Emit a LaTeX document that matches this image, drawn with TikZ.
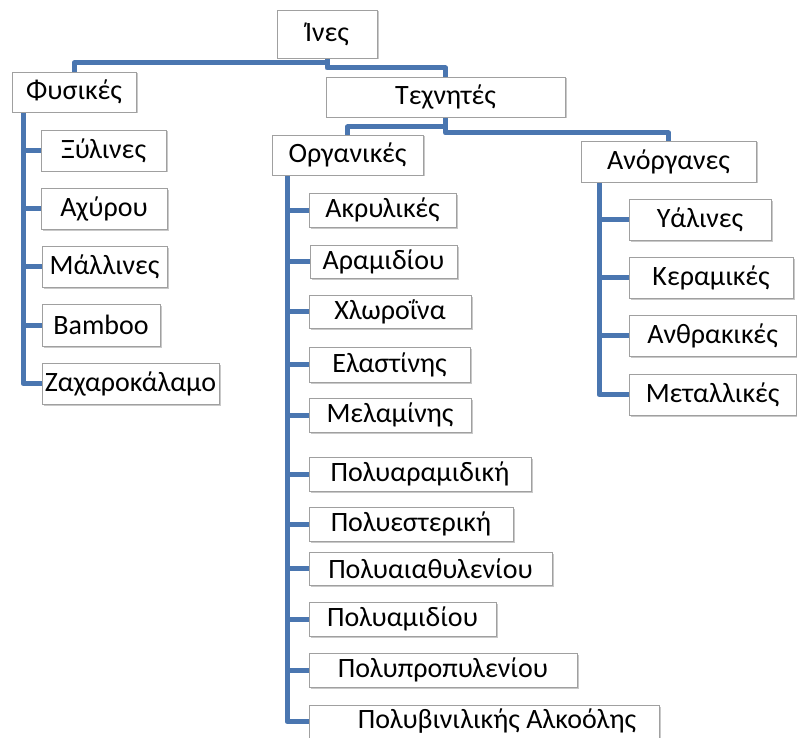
\documentclass[tikz,border=0pt]{standalone}
\usepackage{fontspec}
\setmainfont{Carlito}
\usetikzlibrary{shadows}
\definecolor{lineblue}{RGB}{74,118,176}
\definecolor{boxgray}{RGB}{160,160,160}
\tikzset{
  box/.style={draw=boxgray, line width=0.9pt, fill=white, inner sep=0pt,
    font=\fontsize{28}{32}\selectfont, anchor=center,
    drop shadow={shadow xshift=1.5pt, shadow yshift=-1.5pt, opacity=0.35, fill=black!60}},
  conn/.style={draw=lineblue, line width=5pt, line join=round, line cap=butt}
}
\newcommand{\bx}[6]{\node[box, minimum width=#4pt, minimum height=#5pt] (#1) at (#2,#3) {#6};}
\begin{document}
\begin{tikzpicture}[x=1pt,y=-1pt]
\useasboundingbox (0,0) rectangle (797,738);
\fill[white] (0,0) rectangle (797,738);
% connectors first
\coordinate (fysv) at (23,112);
\coordinate (orgv) at (287,175);
\coordinate (anorv) at (599,182);
\coordinate (ines) at (327,58);
\coordinate (fys) at (74,72);
\coordinate (tex) at (445.5,77);
\coordinate (texb) at (445.5,117);
\coordinate (org) at (347.5,135);
\coordinate (anor) at (668.5,141);
\draw[conn] (ines) -- (327,63) -| (fys);
\draw[conn] (ines) -- (327,68) -| (tex);
\draw[conn] (texb) -- (445.5,127) -| (org);
\draw[conn] (texb) -- (445.5,133) -| (anor);
\draw[conn] (fysv) |- (42,383.5);
\draw[conn] (orgv) |- (310,721.5);
\draw[conn] (anorv) |- (630,394.5);
\foreach \yy in {150.5,208.5,266.5,325} \draw[conn] (23,\yy) -- (42,\yy);
\foreach \yy in {210,261.5,311.5,364.5,415,474,524,568.5,619,670} \draw[conn] (287,\yy) -- (310,\yy);
\foreach \yy in {219.5,277.5,335.5} \draw[conn] (599,\yy) -- (630,\yy);
% boxes
\bx{inesb}{327}{34}{100}{48}{Ίνες}
\bx{fysb}{74}{92}{124}{40}{Φυσικές}
\bx{texbb}{445.5}{97}{239}{40}{Τεχνητές}
\bx{orgb}{347.5}{155}{151}{40}{Οργανικές}
\bx{anorb}{668.5}{161.5}{175}{41}{Ανόργανες}
\bx{xyl}{103.5}{150.5}{125}{41}{Ξύλινες}
\bx{axy}{104}{208.5}{126}{41}{Αχύρου}
\bx{mal}{104.5}{266.5}{125}{41}{Μάλλινες}
\bx{bam}{101}{325}{118}{42}{Bamboo}
\bx{zax}{130.5}{383.5}{177}{41}{Ζαχαροκάλαμο}
\bx{akr}{382.5}{210}{147}{34}{Ακρυλικές}
\bx{ara}{383.5}{261.5}{147}{33}{Αραμιδίου}
\bx{xlo}{390}{311.5}{162}{33}{Χλωροΐνα}
\bx{ela}{389.5}{364.5}{161}{35}{Ελαστίνης}
\bx{mel}{390}{415}{162}{34}{Μελαμίνης}
\bx{polar}{420}{474}{222}{34}{Πολυαραμιδική}
\bx{poles}{411}{524}{204}{34}{Πολυεστερική}
\bx{polai}{430.5}{568.5}{243}{33}{Πολυαιαθυλενίου}
\bx{polam}{402.5}{619}{187}{34}{Πολυαμιδίου}
\bx{polpr}{443}{670}{268}{34}{Πολυπροπυλενίου}
\bx{polvi}{484}{721.5}{350}{33}{\hspace*{26pt}Πολυβινιλικής Αλκοόλης}
\bx{yal}{700}{219.5}{142}{41}{Υάλινες}
\bx{ker}{711}{277.5}{164}{41}{Κεραμικές}
\bx{anth}{712.5}{335.5}{167}{41}{Ανθρακικές}
\bx{met}{712.5}{394.5}{167}{41}{Μεταλλικές}
\end{tikzpicture}
\end{document}
